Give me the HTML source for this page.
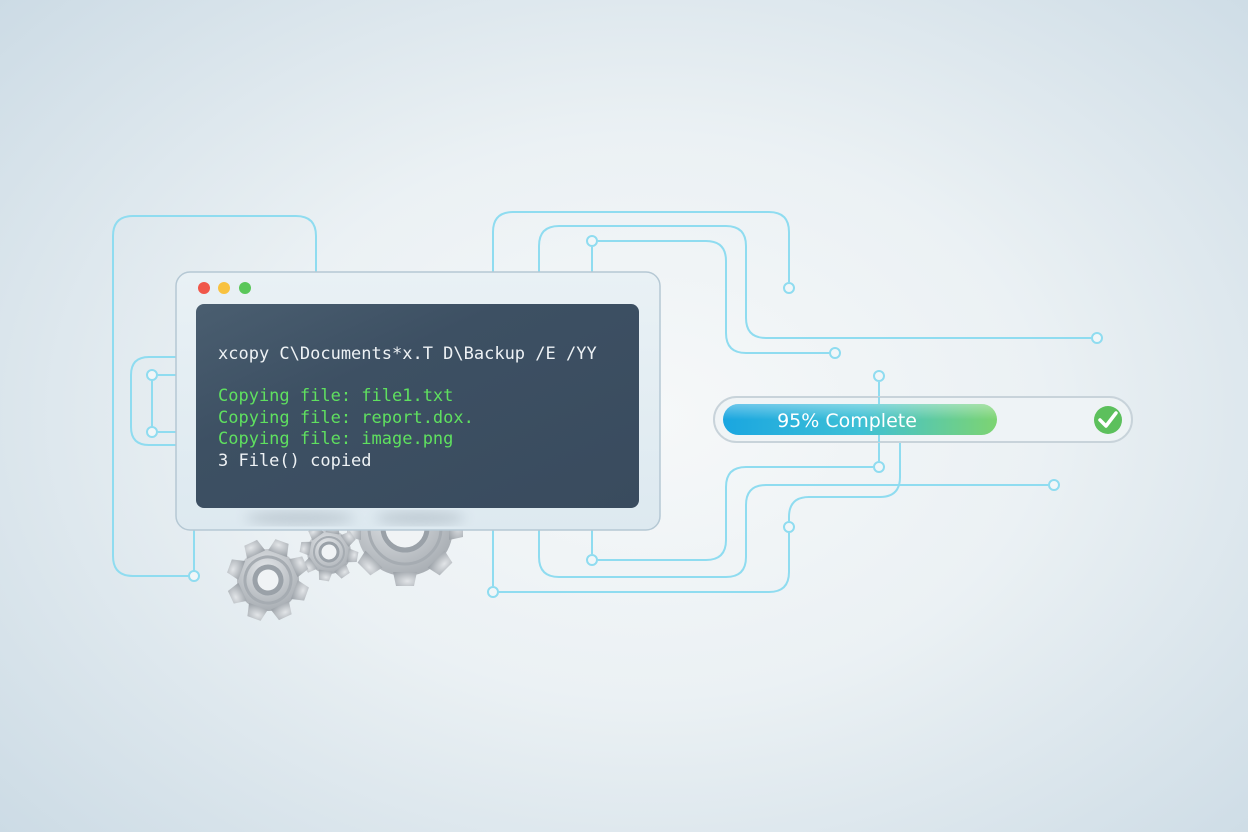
<!DOCTYPE html>
<html><head><meta charset="utf-8"><style>
html,body{margin:0;padding:0}
body{width:1248px;height:832px;overflow:hidden;background:radial-gradient(ellipse 70% 75% at 52% 50%,#f6f8f9 0%,#ebf1f4 45%,#ccdbe5 100%);font-family:"Liberation Sans",sans-serif}
svg{position:absolute;left:0;top:0}
</style></head><body>
<svg width="1248" height="832" viewBox="0 0 1248 832">
<defs>
<linearGradient id="bar" x1="0" y1="0" x2="1" y2="0"><stop offset="0" stop-color="#1aa6e0"/><stop offset="0.5" stop-color="#3ec0d6"/><stop offset="1" stop-color="#7dd472"/></linearGradient>
<linearGradient id="barsh" x1="0" y1="0" x2="0" y2="1"><stop offset="0" stop-color="#fff" stop-opacity="0.35"/><stop offset="0.5" stop-color="#fff" stop-opacity="0"/></linearGradient>
<radialGradient id="gear" cx="0.4" cy="0.35" r="0.8"><stop offset="0" stop-color="#e2e5e8"/><stop offset="1" stop-color="#9ea4aa"/></radialGradient>
<linearGradient id="term" x1="0" y1="0" x2="1" y2="1"><stop offset="0" stop-color="#4a5e70"/><stop offset="0.35" stop-color="#3d5063"/><stop offset="1" stop-color="#394b5e"/></linearGradient>
<linearGradient id="frame" x1="0" y1="0" x2="0" y2="1"><stop offset="0" stop-color="#e9f1f5"/><stop offset="1" stop-color="#dde9f0"/></linearGradient>
<filter id="blur"><feGaussianBlur stdDeviation="6"/></filter>
</defs>
<g fill="none" stroke="#8fdcf0" stroke-width="2">
<path d="M194 530 V576 M194 576 H133 Q113 576 113 556 V236 Q113 216 133 216 H296 Q316 216 316 236 V272"/>
<path d="M176 357 H149 Q131 357 131 375 V427 Q131 445 149 445 H176"/>
<path d="M152 375 V432 M158 375 H176 M158 432 H176"/>
<path d="M493 272 V232 Q493 212 513 212 H769 Q789 212 789 232 V282"/>
<path d="M539 272 V246 Q539 226 559 226 H726 Q746 226 746 246 V318 Q746 338 766 338 H1091"/>
<path d="M592 272 V247 M598 241 H706 Q726 241 726 261 V333 Q726 353 746 353 H829"/>
<path d="M879 382 V461"/>
<path d="M873 467 H746 Q726 467 726 487 V540 Q726 560 706 560 H598 M592 554 V530"/>
<path d="M1048 485 H766 Q746 485 746 505 V557 Q746 577 726 577 H559 Q539 577 539 557 V530"/>
<path d="M900 442 V477 Q900 497 880 497 H809 Q789 497 789 517 V521 M789 533 V572 Q789 592 769 592 H499 M493 586 V530"/>
</g>
<g fill="#f1f6f8" stroke="#8fdcf0" stroke-width="2">
<circle cx="194" cy="576" r="5"/><circle cx="152" cy="375" r="5"/><circle cx="152" cy="432" r="5"/>
<circle cx="789" cy="288" r="5"/><circle cx="1097" cy="338" r="5"/><circle cx="592" cy="241" r="5"/><circle cx="835" cy="353" r="5"/>
<circle cx="879" cy="376" r="5"/><circle cx="879" cy="467" r="5"/><circle cx="1054" cy="485" r="5"/><circle cx="592" cy="560" r="5"/>
<circle cx="789" cy="527" r="5"/><circle cx="493" cy="592" r="5"/>
</g>
<g fill="url(#gear)">
<g transform="translate(405,528)">
<circle r="48"/>
<g><path id="tb" d="M-12 -44 L-9 -58 L9 -58 L12 -44Z"/><use href="#tb" transform="rotate(45)"/><use href="#tb" transform="rotate(90)"/><use href="#tb" transform="rotate(135)"/><use href="#tb" transform="rotate(180)"/><use href="#tb" transform="rotate(225)"/><use href="#tb" transform="rotate(270)"/><use href="#tb" transform="rotate(315)"/></g>
<circle r="36" fill="none" stroke="#a6acb2" stroke-width="3"/><circle r="22" fill="#f0f3f5" stroke="#9aa1a8" stroke-width="5"/>
</g>
<g transform="translate(329,552) rotate(10)">
<circle r="22"/>
<g><path id="tm" d="M-7 -19 L-5 -29 L5 -29 L7 -19Z"/><use href="#tm" transform="rotate(45)"/><use href="#tm" transform="rotate(90)"/><use href="#tm" transform="rotate(135)"/><use href="#tm" transform="rotate(180)"/><use href="#tm" transform="rotate(225)"/><use href="#tm" transform="rotate(270)"/><use href="#tm" transform="rotate(315)"/></g>
<circle r="15" fill="none" stroke="#a6acb2" stroke-width="2"/><circle r="9" fill="#f0f3f5" stroke="#9aa1a8" stroke-width="3"/>
</g>
<g transform="translate(268,580) rotate(20)">
<circle r="31"/>
<g><path id="ts" d="M-10 -28 L-7 -41 L7 -41 L10 -28Z"/><use href="#ts" transform="rotate(45)"/><use href="#ts" transform="rotate(90)"/><use href="#ts" transform="rotate(135)"/><use href="#ts" transform="rotate(180)"/><use href="#ts" transform="rotate(225)"/><use href="#ts" transform="rotate(270)"/><use href="#ts" transform="rotate(315)"/></g>
<circle r="23" fill="none" stroke="#a6acb2" stroke-width="3"/><circle r="13" fill="#f0f3f5" stroke="#9aa1a8" stroke-width="5"/>
</g>
</g>
<rect x="176" y="272" width="484" height="258" rx="14" fill="url(#frame)" stroke="#b5c8d4" stroke-width="1.5"/>
<g filter="url(#blur)" fill="#9aa6b0" opacity="0.45">
<ellipse cx="300" cy="518" rx="55" ry="7"/><ellipse cx="420" cy="518" rx="45" ry="7"/>
</g>
<circle cx="204" cy="288" r="6" fill="#f0574a"/><circle cx="224" cy="288" r="6" fill="#f8c240"/><circle cx="245" cy="288" r="6" fill="#5ac75a"/>
<rect x="196" y="304" width="443" height="204" rx="8" fill="url(#term)"/>
<g font-family="'DejaVu Sans Mono','Liberation Mono',monospace" font-size="17">
<text x="218" y="359" fill="#eef2f5">xcopy C\Documents*x.T D\Backup /E /YY</text>
<text x="218" y="401" fill="#5fe05f">Copying file: file1.txt</text>
<text x="218" y="423" fill="#5fe05f">Copying file: report.dox.</text>
<text x="218" y="444" fill="#5fe05f">Copying file: image.png</text>
<text x="218" y="466" fill="#eef2f5">3 File() copied</text>
</g>
<rect x="714" y="397" width="418" height="45" rx="22.5" fill="#eef3f6" fill-opacity="0.85" stroke="#c8d3da" stroke-width="2"/>
<line x1="879" y1="397" x2="879" y2="442" stroke="#8fdcf0" stroke-width="2"/>
<rect x="723" y="404" width="274" height="31" rx="15.5" fill="url(#bar)"/>
<rect x="723" y="404" width="274" height="31" rx="15.5" fill="url(#barsh)"/>
<text x="847" y="427" fill="#fff" font-size="19" text-anchor="middle" font-family="'DejaVu Sans','Liberation Sans',sans-serif">95% Complete</text>
<circle cx="1108" cy="420" r="14" fill="#5cc05c"/>
<path d="M1100 420 L1106 426 L1116 413" fill="none" stroke="#fff" stroke-width="3.5" stroke-linecap="round" stroke-linejoin="round"/>
</svg>
</body></html>
